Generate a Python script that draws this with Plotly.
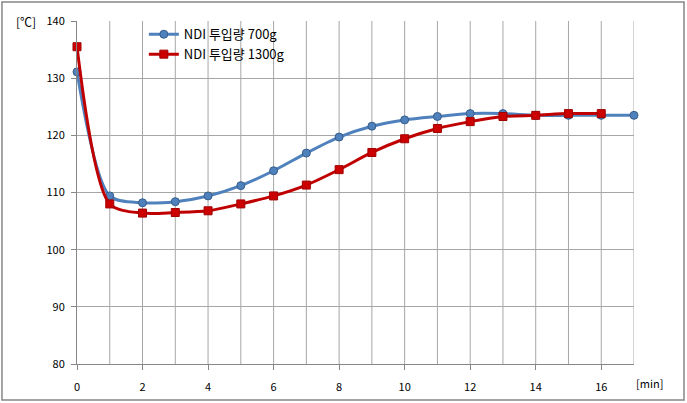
import plotly.graph_objects as go

minutes_700 = list(range(0, 18))
temp_700 = [131.1, 109.4, 108.2, 108.4, 109.4, 111.2, 113.8, 116.9, 119.7, 121.6,
            122.7, 123.3, 123.8, 123.8, 123.5, 123.5, 123.5, 123.5]
minutes_1300 = list(range(0, 17))
temp_1300 = [135.5, 108.0, 106.4, 106.5, 106.8, 108.0, 109.4, 111.3, 114.0, 117.0,
             119.4, 121.2, 122.4, 123.3, 123.5, 123.8, 123.8]
name_700 = "NDI 투입량 700g"
name_1300 = "NDI 투입량 1300g"
x_ticks = list(range(0, 17, 2))
y_ticks = list(range(80, 141, 10))

FONT = "Noto Sans CJK KR, Liberation Sans, sans-serif"

fig = go.Figure()
fig.add_trace(go.Scatter(
    x=minutes_700, y=temp_700, name=name_700, mode="lines+markers", cliponaxis=False,
    line=dict(color="#4f81bd", width=3, shape="spline", smoothing=0.8),
    marker=dict(symbol="circle", size=8, color="#4f81bd",
                line=dict(color="#385d8a", width=1)),
))
fig.add_trace(go.Scatter(
    x=minutes_1300, y=temp_1300, name=name_1300, mode="lines+markers", cliponaxis=False,
    line=dict(color="#c00000", width=3, shape="spline", smoothing=0.8),
    marker=dict(symbol="square", size=8, color="#cc0000",
                line=dict(color="#a00000", width=1)),
))

fig.update_layout(
    width=687, height=403,
    margin=dict(l=77, r=53, t=21, b=39),
    paper_bgcolor="white", plot_bgcolor="white",
    font=dict(family=FONT, size=11, color="#000000"),
    showlegend=True,
    legend=dict(x=0.12, y=1.005, xanchor="left", yanchor="top",
                bgcolor="rgba(0,0,0,0)", font=dict(size=13, family=FONT),
                itemwidth=30, tracegroupgap=0),
    xaxis=dict(range=[0, 17], tickvals=x_ticks, ticktext=[str(v) for v in x_ticks],
               showgrid=False, zeroline=False, showline=True, linecolor="#868686",
               ticks="outside", ticklen=5, tickcolor="#868686", ticklabelstandoff=8,
               automargin=False, tickfont=dict(size=11, family=FONT)),
    yaxis=dict(range=[80, 140], tickvals=y_ticks, showgrid=True, gridcolor="#a6a6a6",
               gridwidth=1, zeroline=False, showline=True, linecolor="#868686",
               ticks="outside", ticklen=5, tickcolor="#868686", ticklabelstandoff=4,
               automargin=False, tickfont=dict(size=11, family=FONT)),
)

# vertical gridlines at every minute
shapes = []
for m in range(1, 18):
    shapes.append(dict(type="line", xref="x", yref="y", x0=m, x1=m, y0=80, y1=140,
                       line=dict(color="#a6a6a6", width=1), layer="below"))
# outer chart border
shapes.append(dict(type="rect", xref="paper", yref="paper",
                   x0=-0.1347, x1=1.0898, y0=-0.105, y1=1.0554,
                   line=dict(color="#868686", width=1.5), fillcolor="rgba(0,0,0,0)"))
fig.update_layout(shapes=shapes)

fig.add_annotation(text="[℃]", xref="paper", yref="paper", x=-0.07, y=1.0,
                   xanchor="right", yanchor="middle", showarrow=False,
                   font=dict(size=12, family=FONT))
fig.add_annotation(text="[min]", xref="paper", yref="paper", x=1.0, y=-0.055,
                   xanchor="left", yanchor="middle", showarrow=False,
                   font=dict(size=11, family=FONT))

fig.write_html("out.html")
